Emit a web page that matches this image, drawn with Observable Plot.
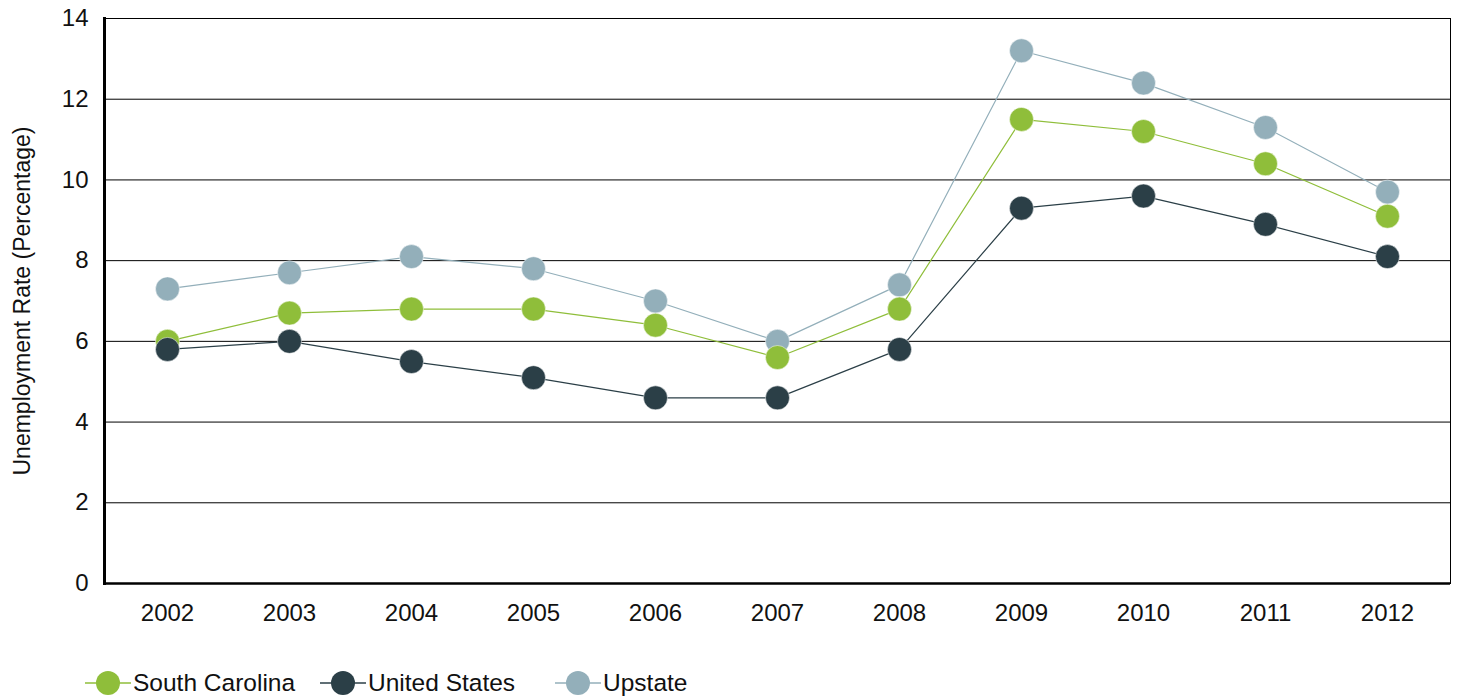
<!DOCTYPE html>
<html><head><meta charset="utf-8">
<script src="https://cdn.jsdelivr.net/npm/d3@7"></script>
<script src="https://cdn.jsdelivr.net/npm/@observablehq/plot@0.6"></script>
<style>
body{margin:0;background:#fff;font-family:"Liberation Sans",Arial,sans-serif;}
#wrap{position:relative;width:1459px;height:698px;}
#legend{position:absolute;left:0;top:668px;width:1459px;height:30px;font-size:24.5px;color:#111;}
.item{position:absolute;top:0;display:flex;align-items:center;height:30px;}
.item svg{margin-right:2px;}
</style>
</head><body>
<div id="wrap">
<div id="chart"></div>
<div id="legend"></div>
</div>
<script>
const years = ["2002","2003","2004","2005","2006","2007","2008","2009","2010","2011","2012"];
const southCarolina = [6.0,6.7,6.8,6.8,6.4,5.6,6.8,11.5,11.2,10.4,9.1];
const unitedStates = [5.8,6.0,5.5,5.1,4.6,4.6,5.8,9.3,9.6,8.9,8.1];
const upstate = [7.3,7.7,8.1,7.8,7.0,6.0,7.4,13.2,12.4,11.3,9.7];
const seriesNames = ["South Carolina","United States","Upstate"];
const seriesColors = ["#8fbe3a","#2b3f47","#93afba"];
const yTicks = [0,2,4,6,8,10,12,14];

const seriesValues = [southCarolina, unitedStates, upstate];
const data = [];
seriesNames.forEach((s,i)=>years.forEach((y,j)=>data.push({series:s, year:y, value:seriesValues[i][j]})));
const order = ["Upstate","South Carolina","United States"];
const sorted = order.flatMap(s=>data.filter(d=>d.series===s));

const chart = Plot.plot({
  width:1459, height:660,
  marginLeft:104, marginRight:9, marginTop:18, marginBottom:77,
  style:{fontFamily:"'Liberation Sans', Arial, sans-serif", fontSize:"24px", color:"#111", background:"#fff"},
  x:{type:"point", domain:years, padding:0.5},
  y:{domain:[0,14]},
  color:{domain:seriesNames, range:seriesColors},
  marks:[
    Plot.ruleY(yTicks.filter(t=>t>0), {stroke:"#000", strokeWidth:1}),
    Plot.frame({stroke:"#000", strokeWidth:1}),
    Plot.frame({anchor:"left", stroke:"#000", strokeWidth:3}),
    Plot.ruleY([0], {stroke:"#000", strokeWidth:2.5}),
    Plot.axisX({tickSize:0, tickPadding:20, label:null, fontSize:24}),
    Plot.axisY({ticks:yTicks, tickSize:0, tickPadding:16, fontSize:24, label:"Unemployment Rate (Percentage)", labelAnchor:"center", labelArrow:"none", labelOffset:91}),
    Plot.line(sorted, {x:"year", y:"value", z:"series", stroke:"series", strokeWidth:1.2}),
    Plot.dot(sorted, {x:"year", y:"value", fill:"series", r:12, stroke:"#fff", strokeWidth:0.5})
  ]
});
document.getElementById("chart").appendChild(chart);
chart.querySelectorAll("text").forEach(t=>{
  if(t.textContent.startsWith("Unemployment")) { t.setAttribute("font-size","23px"); t.style.fontSize="23px"; }
  else { t.setAttribute("font-size","24px"); t.style.fontSize="24px"; }
});

const legend = document.getElementById("legend");
const lefts = [85, 320, 555];
seriesNames.forEach((s,i)=>{
  const d = document.createElement("div"); d.className="item";
  d.style.left = lefts[i]+"px";
  d.innerHTML = `<svg width="46" height="30"><line x1="0" x2="46" y1="15" y2="15" stroke="${seriesColors[i]}" stroke-width="1.5"/><circle cx="23" cy="15" r="12" fill="${seriesColors[i]}"/></svg><span>${s}</span>`;
  legend.appendChild(d);
});
</script>
</body></html>
